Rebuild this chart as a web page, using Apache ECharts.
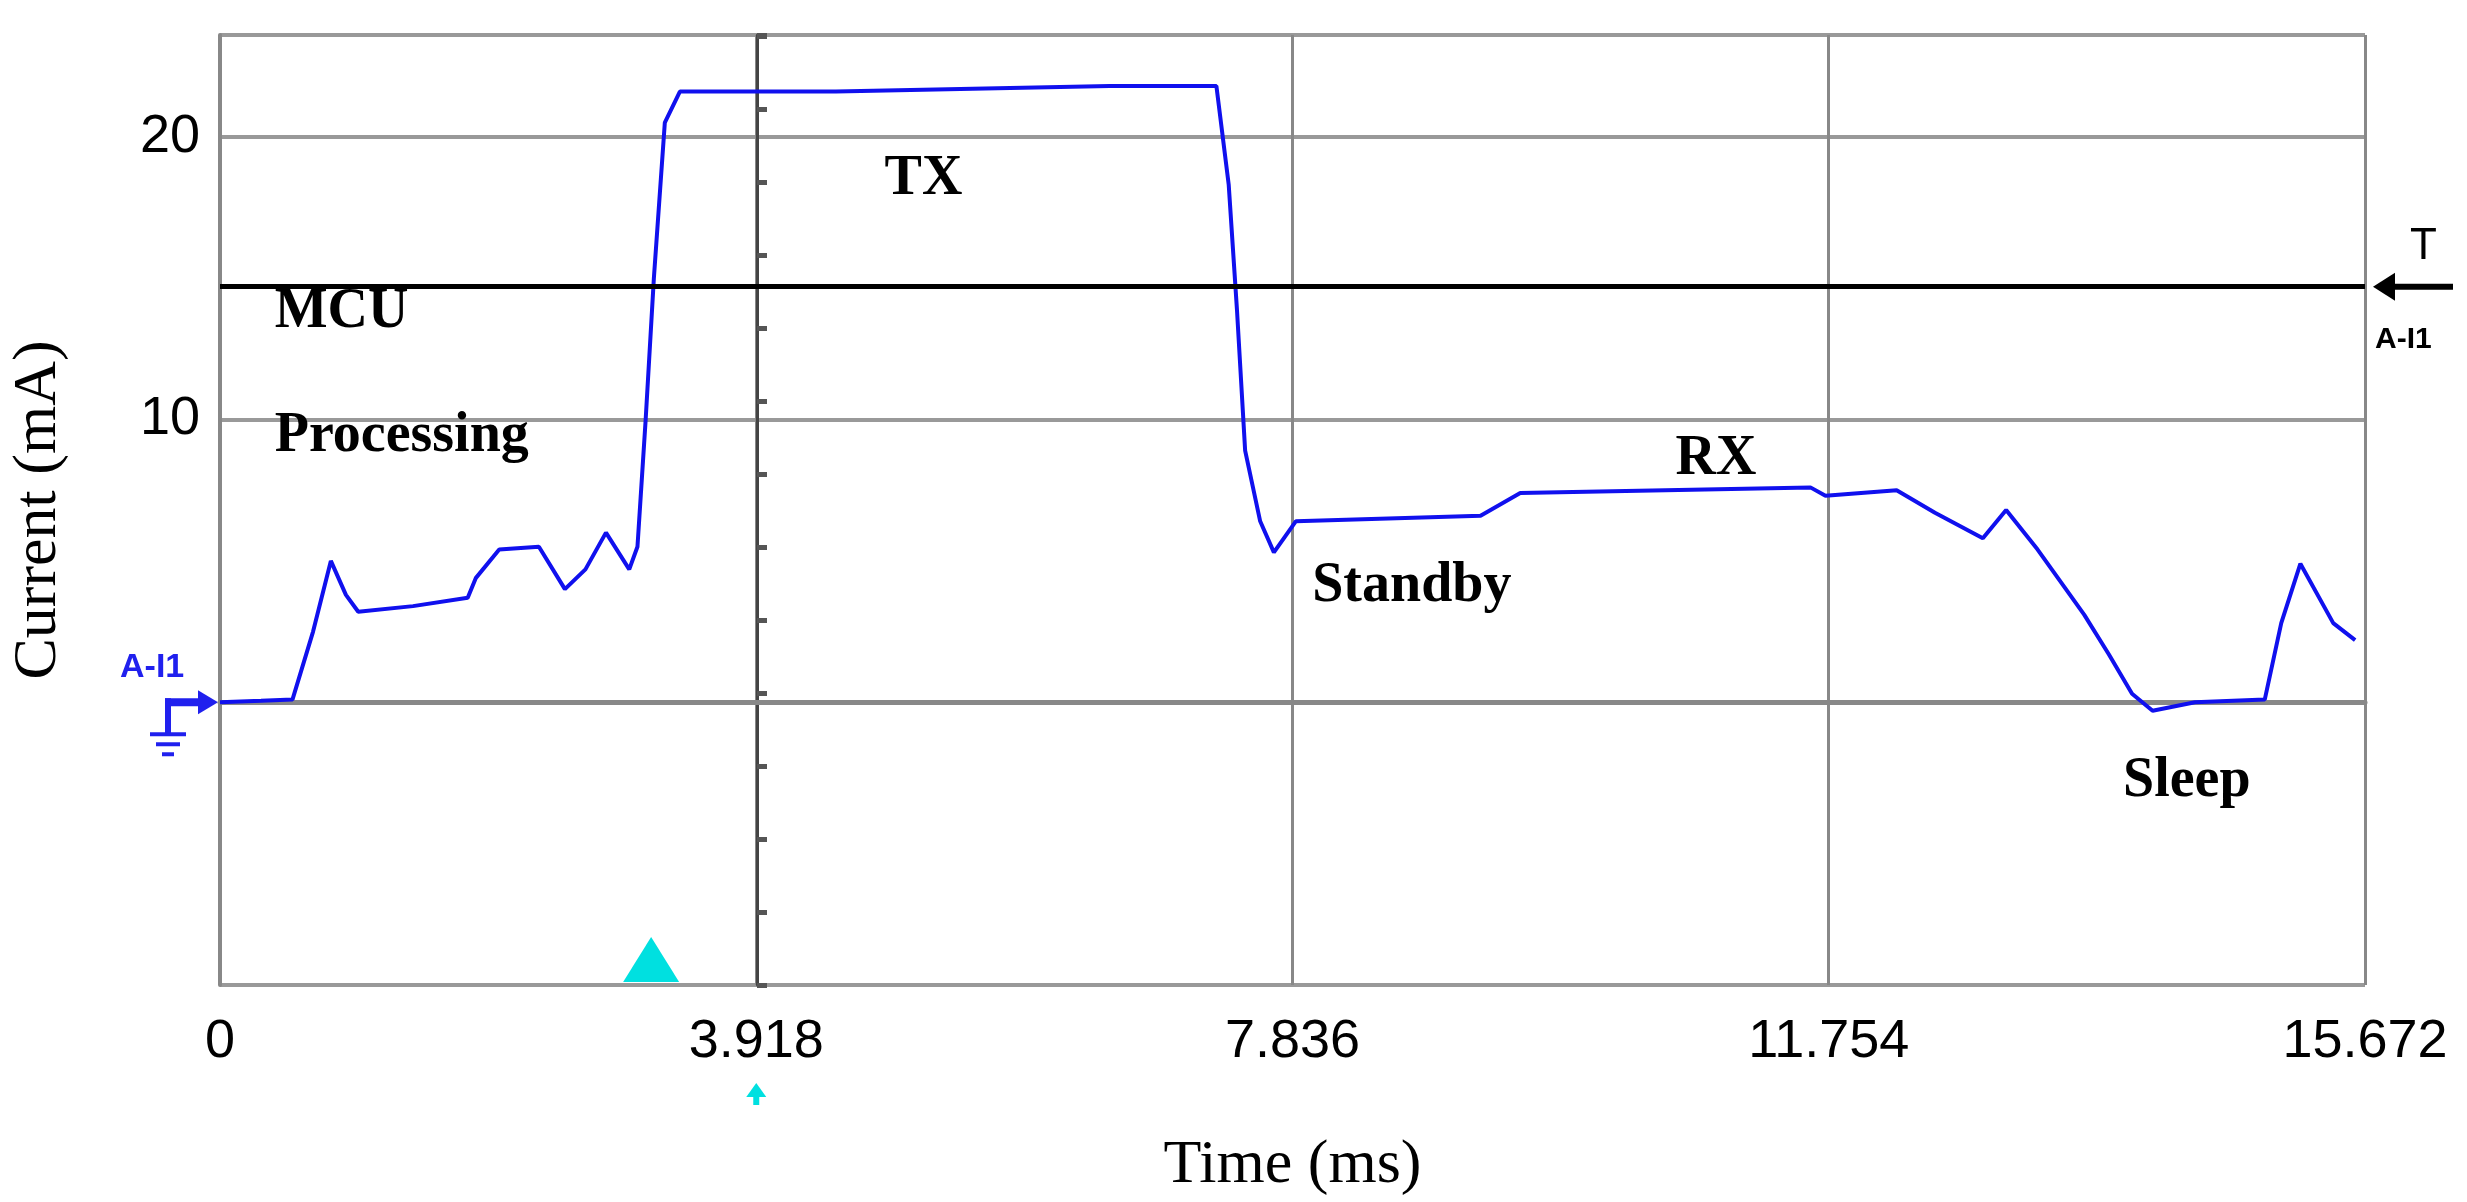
<!DOCTYPE html>
<html><head><meta charset="utf-8">
<script src="https://cdn.jsdelivr.net/npm/echarts@6/dist/echarts.min.js"></script>
<style>html,body{margin:0;background:#fff}#c{width:2467px;height:1202px}</style>
</head><body><div id="c"></div>
<script>
const timeMs = [0,0.30,0.53,0.68,0.81,0.92,1.01,1.41,1.81,1.87,2.04,2.33,2.52,2.67,2.82,2.99,3.05,3.11,3.17,3.25,3.36,4.5,5.5,6.5,7.28,7.37,7.43,7.49,7.60,7.70,7.86,9.21,9.50,11.62,11.73,12.25,12.53,12.88,13.05,13.28,13.62,13.80,13.97,14.12,14.43,14.94,15.06,15.20,15.44,15.60];
const currentMa = [0,0.05,0.1,2.5,5.0,3.8,3.2,3.4,3.7,4.4,5.4,5.5,4.0,4.7,6.0,4.7,5.5,10,15,20.5,21.6,21.6,21.7,21.8,21.8,18.3,13.9,8.9,6.4,5.3,6.4,6.6,7.4,7.6,7.3,7.5,6.7,5.8,6.8,5.4,3.1,1.7,0.3,-0.3,0,0.1,2.8,4.9,2.8,2.2];
const xTicks = ['0','3.918','7.836','11.754','15.672'];
const yTickLabels = {10:'10',20:'20'};
const threshold = 14.7;
const annotations = [
  {name:'TX', x:5.14, y:18.5, align:'center'},
  {name:'MCU', x:0.40, y:13.8, align:'left'},
  {name:'Processing', x:0.40, y:9.4, align:'left'},
  {name:'Standby', x:7.98, y:4.1, align:'left'},
  {name:'RX', x:10.93, y:8.6, align:'center'},
  {name:'Sleep', x:14.37, y:-2.8, align:'center'}
];
const chart = echarts.init(document.getElementById('c'));
chart.setOption({
  animation:false,
  grid:{left:215,right:102,top:35,bottom:211},
  xAxis:{type:'value',min:0,max:15.672,interval:3.918,
    name:'Time (ms)',nameLocation:'middle',nameGap:150,
    nameTextStyle:{fontFamily:'Liberation Serif',fontSize:62,color:'#000'},
    axisLine:{show:true,lineStyle:{color:'#888',width:5}},axisTick:{show:false},
    axisLabel:{fontFamily:'Liberation Sans',fontSize:54,color:'#000',margin:30,
      formatter:v=>xTicks[Math.round(v/3.918)]},
    splitLine:{show:true,lineStyle:{color:'#888',width:3}}},
  yAxis:[{type:'value',min:-10,max:23.6,interval:10,
    name:'Current (mA)',nameLocation:'middle',nameGap:150,
    nameTextStyle:{fontFamily:'Liberation Serif',fontSize:62,color:'#000'},
    axisLine:{show:true,lineStyle:{color:'#888',width:4}},axisTick:{show:false},
    axisLabel:{fontFamily:'Liberation Sans',fontSize:54,color:'#000',margin:20,
      formatter:v=>yTickLabels[v]||''},
    splitLine:{show:true,lineStyle:{color:'#999',width:4}}},
   {type:'value',min:-10,max:23.6,interval:2.58,position:'left',offset:-537,
    axisLine:{show:true,lineStyle:{color:'#444',width:3}},
    axisTick:{show:true,inside:true,length:10,lineStyle:{color:'#555',width:5}},
    axisLabel:{show:false},splitLine:{show:false}}],
  series:[{type:'line',data:timeMs.map((t,i)=>[t,currentMa[i]]),showSymbol:false,
    lineStyle:{color:'#1010ee',width:4},
    markLine:{silent:true,symbol:'none',label:{show:false},
      lineStyle:{color:'#000',width:5,type:'solid'},data:[{yAxis:threshold}]},
    markPoint:{symbol:'circle',symbolSize:0,
      data:annotations.map(a=>({coord:[a.x,a.y],value:a.name,
        label:{show:true,formatter:a.name,align:a.align,verticalAlign:'middle',
          fontFamily:'Liberation Serif',fontWeight:'bold',fontSize:56,color:'#000'}}))}}
  ]
});
const [tx,ty] = chart.convertToPixel({xAxisIndex:0,yAxisIndex:0},[3.15,-10]);
const [zx,zy] = chart.convertToPixel({xAxisIndex:0,yAxisIndex:0},[0,0]);
const [ax,ay] = chart.convertToPixel({xAxisIndex:0,yAxisIndex:0},[3.918,-10]);
const [rx,thy] = chart.convertToPixel({xAxisIndex:0,yAxisIndex:0},[15.672,threshold]);
chart.setOption({graphic:[
  {type:'polygon',shape:{points:[[tx-28,ty-3],[tx+28,ty-3],[tx,ty-48]]},style:{fill:'#00e0e0'}},
  {type:'polygon',shape:{points:[[ax-10,ay+112],[ax+10,ay+112],[ax,ay+98]]},style:{fill:'#00e0e0'}},
  {type:'rect',shape:{x:ax-3,y:ay+110,width:6,height:10},style:{fill:'#00e0e0'}},
  {type:'text',x:zx-100,y:zy-52,style:{text:'A-I1',fontFamily:'Liberation Sans',fontWeight:'bold',fontSize:34,fill:'#2020ee'}},
  {type:'polygon',shape:{points:[[zx-2,zy],[zx-22,zy-12],[zx-22,zy+12]]},style:{fill:'#2020ee'}},
  {type:'rect',shape:{x:zx-55,y:zy-4,width:35,height:8},style:{fill:'#2020ee'}},
  {type:'rect',shape:{x:zx-55,y:zy-4,width:6,height:35},style:{fill:'#2020ee'}},
  {type:'rect',shape:{x:zx-70,y:zy+30,width:36,height:4},style:{fill:'#2020ee'}},
  {type:'rect',shape:{x:zx-64,y:zy+40,width:24,height:4},style:{fill:'#2020ee'}},
  {type:'rect',shape:{x:zx-58,y:zy+50,width:12,height:4},style:{fill:'#2020ee'}},
  {type:'text',x:rx+45,y:thy-62,style:{text:'T',fontFamily:'Liberation Sans',fontSize:44,fill:'#000'}},
  {type:'polygon',shape:{points:[[rx+8,thy],[rx+30,thy-14],[rx+30,thy+14]]},style:{fill:'#000'}},
  {type:'rect',shape:{x:rx+28,y:thy-3,width:60,height:6},style:{fill:'#000'}},
  {type:'text',x:rx+10,y:thy+38,style:{text:'A-I1',fontFamily:'Liberation Sans',fontWeight:'bold',fontSize:30,fill:'#000'}}
]});
</script></body></html>
